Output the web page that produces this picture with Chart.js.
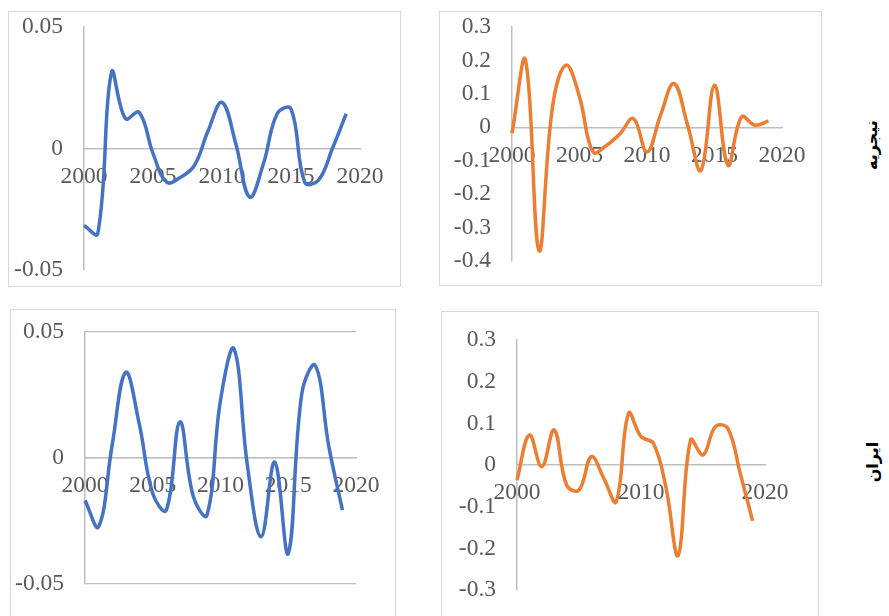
<!DOCTYPE html>
<html>
<head>
<meta charset="utf-8">
<script src="https://cdn.jsdelivr.net/npm/chart.js@4.4.1/dist/chart.umd.min.js"></script>
<style>
  html, body { margin: 0; padding: 0; background: #fff; width: 889px; height: 616px; overflow: hidden; }
  .box { position: absolute; border: 1px solid #d9d9d9; box-sizing: border-box; }
  canvas { position: absolute; }
  .side {
    position: absolute; width: 80px; height: 24px; line-height: 24px; text-align: center;
    font: bold 16px "DejaVu Sans", sans-serif; color: #000; white-space: nowrap;
    transform: translate(-50%, -50%) rotate(-90deg);
  }
</style>
</head>
<body>
<div class="box" style="left:8px;top:11px;width:393px;height:276px"></div>
<div class="box" style="left:439px;top:11px;width:383px;height:275px"></div>
<div class="box" style="left:10px;top:309px;width:386px;height:330px"></div>
<div class="box" style="left:441px;top:311px;width:378px;height:330px"></div>

<canvas id="nigeriaA" width="393" height="276" style="left:8px;top:11px"></canvas>
<canvas id="nigeriaB" width="383" height="275" style="left:439px;top:11px"></canvas>
<canvas id="iranA" width="386" height="320" style="left:10px;top:309px"></canvas>
<canvas id="iranB" width="378" height="320" style="left:441px;top:311px"></canvas>

<div class="side" style="left:874px;top:145px">نیجریه</div>
<div class="side" style="left:875px;top:462px">ایران</div>

<script>
// years on the x axis
const years = [2000, 2001, 2002, 2003, 2004, 2005, 2006, 2007, 2008, 2009,
               2010, 2011, 2012, 2013, 2014, 2015, 2016, 2017, 2018, 2019];

// Nigeria (top row)
const nigeriaBlue = [-0.0317, -0.035, 0.0314, 0.0123, 0.0149, -0.002, -0.0139, -0.0118, -0.007, 0.0074,
                     0.019, 0.002, -0.020, -0.0063, 0.0143, 0.0163, -0.0139, -0.013, 0.0, 0.0143];
const nigeriaOrange = [-0.018, 0.201, -0.369, 0.061, 0.186, 0.091, -0.074, -0.054, -0.019, 0.026,
                       -0.074, 0.036, 0.131, 0.008, -0.129, 0.126, -0.114, 0.031, 0.006, 0.019];

// Iran (bottom row)
const iranBlue = [-0.0168, -0.0273, 0.005, 0.034, 0.0136, -0.0141, -0.0207, 0.0143, -0.0154, -0.0227,
                  0.0229, 0.0433, -0.0036, -0.0313, -0.0016, -0.0379, 0.0255, 0.0367, 0.0044, -0.0207];
const iranOrange = [-0.036, 0.072, -0.004, 0.084, -0.048, -0.06, 0.02, -0.032, -0.088, 0.124,
                    0.068, 0.052, -0.052, -0.217, 0.06, 0.024, 0.092, 0.088, -0.02, -0.134];

// tick labels
const xTicksFive = [2000, 2005, 2010, 2015, 2020];
const xTicksTen = [2000, 2010, 2020];
const yTicksSmall = [0.05, 0, -0.05];
const yTicksNigeria = [0.3, 0.2, 0.1, 0, -0.1, -0.2, -0.3, -0.4];
const yTicksIran = [0.3, 0.2, 0.1, 0, -0.1, -0.2, -0.3];

const BLUE = '#4472c4';
const ORANGE = '#ed7d31';
const AXIS = '#bfbfbf';
const LABEL = '#595959';
const FONT = { family: '"Liberation Serif", "Times New Roman", serif', size: 23.5 };

function makeChart(id, values, color, xTicks, yTicks, yWidth, pad, showGrid) {
    const yMin = Math.min(...yTicks);
    const yMax = Math.max(...yTicks);
    return new Chart(document.getElementById(id), {
        type: 'scatter',
        data: {
            datasets: [{
                data: years.map((x, i) => ({ x: x, y: values[i] })),
                showLine: true,
                borderColor: color,
                borderWidth: 3.5,
                pointRadius: 0,
                tension: 0.4,
                clip: false
            }]
        },
        options: {
            responsive: false,
            animation: false,
            layout: { padding: pad },
            plugins: { legend: { display: false }, tooltip: { enabled: false } },
            scales: {
                x: {
                    type: 'linear',
                    min: 2000,
                    max: 2020,
                    position: { y: 0 },
                    grid: { display: false, drawTicks: false },
                    border: { color: AXIS, width: 1.5 },
                    afterBuildTicks: s => { s.ticks = xTicks.map(v => ({ value: v })); },
                    afterFit: s => { s.paddingLeft = 0; s.paddingRight = 0; },
                    ticks: {
                        color: LABEL, font: FONT, padding: 14,
                        maxRotation: 0, autoSkip: false,
                        callback: v => String(v)
                    }
                },
                y: {
                    type: 'linear',
                    min: yMin,
                    max: yMax,
                    grid: { display: showGrid, drawTicks: false, color: AXIS, lineWidth: 1.3 },
                    border: { color: AXIS, width: 1.5 },
                    afterBuildTicks: s => { s.ticks = yTicks.map(v => ({ value: v })); },
                    afterFit: s => { s.width = yWidth; s.paddingTop = 0; s.paddingBottom = 0; },
                    ticks: {
                        color: LABEL, font: FONT, padding: 21,
                        callback: v => String(v)
                    }
                }
            }
        }
    });
}

makeChart('nigeriaA', nigeriaBlue, BLUE, xTicksFive, yTicksSmall, 76,
          { left: 0, top: 16, right: 41, bottom: 17 }, false);
makeChart('nigeriaB', nigeriaOrange, ORANGE, xTicksFive, yTicksNigeria, 73,
          { left: 0, top: 16, right: 40, bottom: 25 }, false);
makeChart('iranA', iranBlue, BLUE, xTicksFive, yTicksSmall, 75,
          { left: 0, top: 23, right: 40, bottom: 45 }, true);
makeChart('iranB', iranOrange, ORANGE, xTicksTen, yTicksIran, 76,
          { left: 0, top: 29, right: 54, bottom: 41 }, false);
</script>
</body>
</html>
